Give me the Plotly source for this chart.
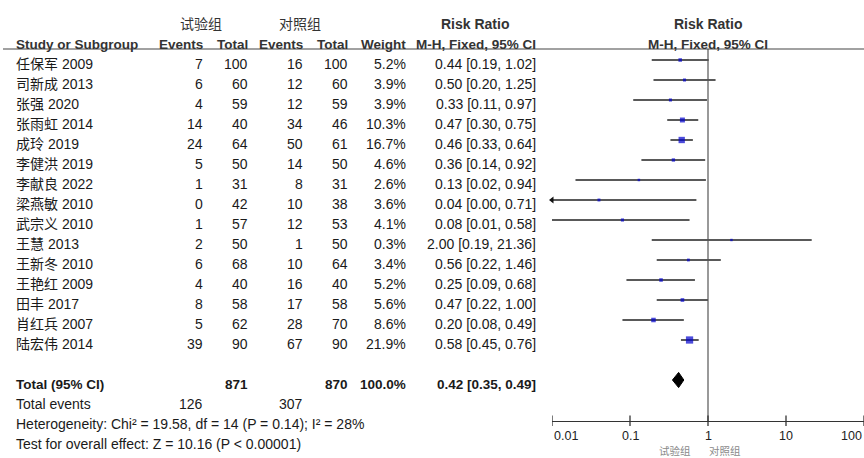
import math
import plotly.graph_objects as go

# ---------------- data ----------------
studies = ["任保军 2009", "司新成 2013", "张强 2020", "张雨虹 2014", "成玲 2019",
           "李健洪 2019", "李献良 2022", "梁燕敏 2010", "武宗义 2010", "王慧 2013",
           "王新冬 2010", "王艳红 2009", "田丰 2017", "肖红兵 2007", "陆宏伟 2014"]
exp_events = [7, 6, 4, 14, 24, 5, 1, 0, 1, 2, 6, 4, 8, 5, 39]
exp_total = [100, 60, 59, 40, 64, 50, 31, 42, 57, 50, 68, 40, 58, 62, 90]
ctl_events = [16, 12, 12, 34, 50, 14, 8, 10, 12, 1, 10, 16, 17, 28, 67]
ctl_total = [100, 60, 59, 46, 61, 50, 31, 38, 53, 50, 64, 40, 58, 70, 90]
weights = [5.2, 3.9, 3.9, 10.3, 16.7, 4.6, 2.6, 3.6, 4.1, 0.3, 3.4, 5.2, 5.6, 8.6, 21.9]
rr = [0.44, 0.50, 0.33, 0.47, 0.46, 0.36, 0.13, 0.04, 0.08, 2.00, 0.56, 0.25, 0.47, 0.20, 0.58]
ci_lo = [0.19, 0.20, 0.11, 0.30, 0.33, 0.14, 0.02, 0.00, 0.01, 0.19, 0.22, 0.09, 0.22, 0.08, 0.45]
ci_hi = [1.02, 1.25, 0.97, 0.75, 0.64, 0.92, 0.94, 0.71, 0.58, 21.36, 1.46, 0.68, 1.00, 0.49, 0.76]

total_rr = 0.42
total_lo = 0.35
total_hi = 0.49
total_weight = "100.0%"
heterogeneity = "Heterogeneity: Chi² = 19.58, df = 14 (P = 0.14); I² = 28%"
overall = "Test for overall effect: Z = 10.16 (P &lt; 0.00001)"
axis_ticks = [0.01, 0.1, 1, 10, 100]
axis_ticklabels = ["0.01", "0.1", "1", "10", "100"]
group_exp = "试验组"
group_ctl = "对照组"

# ---------------- layout helpers ----------------
W, H = 864, 458
FONT = "Liberation Sans, Arial, Noto Sans CJK SC, sans-serif"
TXT = "#1a1a1a"
XMIN, XMAX = axis_ticks[0], axis_ticks[-1]

n = len(studies)
rows = list(range(n))
row_total = n + 1
row_tev = n + 2
row_het = n + 3
row_test = n + 4
row_axis = n + 3.05
row_line = -0.55

def px(x):
    return x / W

col_label = px(14)
col_e1 = px(205)
col_t1 = px(250)
col_e2 = px(305)
col_t2 = px(350)
col_w = px(408)
col_ci = px(538)

fig = go.Figure()

# CI lines
lx, ly = [], []
for i in rows:
    lx += [max(ci_lo[i], XMIN), min(ci_hi[i], XMAX), None]
    ly += [i, i, None]
fig.add_trace(go.Scatter(x=lx, y=ly, mode="lines",
                         line=dict(color="#222", width=1.5),
                         hoverinfo="skip", showlegend=False))

# arrows for clipped CIs
ax_, ay_ = [], []
for i in rows:
    if ci_lo[i] < XMIN:
        ax_.append(XMIN)
        ay_.append(i)
fig.add_trace(go.Scatter(x=ax_, y=ay_, mode="markers",
                         marker=dict(symbol="triangle-left", size=6, color="#111"),
                         cliponaxis=False, hoverinfo="skip", showlegend=False))

# squares (size ~ weight)
sizes = [max(2.4, 1.55 * math.sqrt(w)) for w in weights]
fig.add_trace(go.Scatter(x=rr, y=rows, mode="markers",
                         marker=dict(symbol="square", size=sizes, color="#0000cc",
                                     line=dict(width=0)),
                         hoverinfo="skip", showlegend=False))

# reference line at 1
fig.add_trace(go.Scatter(x=[1, 1], y=[row_line, row_axis], mode="lines",
                         line=dict(color="#555", width=1.2),
                         hoverinfo="skip", showlegend=False))

# pooled diamond
dh = 0.38
fig.add_trace(go.Scatter(x=[total_lo, total_rr, total_hi, total_rr, total_lo],
                         y=[row_total, row_total - dh, row_total, row_total + dh, row_total],
                         mode="lines", fill="toself", fillcolor="#000",
                         line=dict(color="#000", width=1),
                         hoverinfo="skip", showlegend=False))

# axis tick marks
tx, ty = [], []
for t in axis_ticks:
    tx += [t, t, None]
    ty += [row_axis - 0.28, row_axis + 0.25, None]
fig.add_trace(go.Scatter(x=tx, y=ty, mode="lines",
                         line=dict(color="#333", width=1.3),
                         cliponaxis=False, hoverinfo="skip", showlegend=False))

ann = []

def txt(x, y, s, anchor="right", bold=False, size=14, color=TXT, xref="paper", yshift=-4):
    ann.append(dict(x=x, y=y, xref=xref, yref="y", text=("<b>%s</b>" % s) if bold else s,
                    xanchor=anchor, yanchor="middle", showarrow=False, yshift=yshift,
                    font=dict(family=FONT, size=size, color=color)))

# headers
txt(px(201), -2, group_exp, anchor="center", color="#333")
txt(px(300), -2, group_ctl, anchor="center", color="#333")
txt(px(475), -2, "Risk Ratio", anchor="center", bold=True, color="#333")
txt(px(708), -2, "Risk Ratio", anchor="center", bold=True, color="#333")
txt(col_label, -1, "Study or Subgroup", anchor="left", bold=True, size=13.5, color="#333")
txt(col_e1, -1, "Events", bold=True, size=13.5, color="#333")
txt(col_t1, -1, "Total", bold=True, size=13.5, color="#333")
txt(col_e2, -1, "Events", bold=True, size=13.5, color="#333")
txt(col_t2, -1, "Total", bold=True, size=13.5, color="#333")
txt(col_w, -1, "Weight", bold=True, size=13.5, color="#333")
txt(col_ci, -1, "M-H, Fixed, 95% CI", bold=True, size=13.5, color="#333")
txt(px(708), -1, "M-H, Fixed, 95% CI", anchor="center", bold=True, size=13.5, color="#333")

# study rows
for i in rows:
    txt(col_label, i, studies[i], anchor="left")
    txt(col_e1, i, str(exp_events[i]))
    txt(col_t1, i, str(exp_total[i]))
    txt(col_e2, i, str(ctl_events[i]))
    txt(col_t2, i, str(ctl_total[i]))
    txt(col_w, i, "%.1f%%" % weights[i])
    txt(col_ci, i, "%.2f [%.2f, %.2f]" % (rr[i], ci_lo[i], ci_hi[i]))

# totals
txt(col_label, row_total, "Total (95% CI)", anchor="left", bold=True, size=13.5)
txt(col_t1, row_total, str(sum(exp_total)), bold=True, size=13.5)
txt(col_t2, row_total, str(sum(ctl_total)), bold=True, size=13.5)
txt(col_w, row_total, total_weight, bold=True, size=13.5)
txt(col_ci, row_total, "%.2f [%.2f, %.2f]" % (total_rr, total_lo, total_hi), bold=True, size=13.5)
txt(col_label, row_tev, "Total events", anchor="left")
txt(col_e1, row_tev, str(sum(exp_events)))
txt(col_e2, row_tev, str(sum(ctl_events)))
txt(col_label, row_het, heterogeneity, anchor="left")
txt(col_label, row_test, overall, anchor="left")

# axis tick labels
for k, (t, lab) in enumerate(zip(axis_ticks, axis_ticklabels)):
    a = "left" if k == 0 else ("right" if k == len(axis_ticks) - 1 else "center")
    ann.append(dict(x=math.log10(t), y=row_axis, xref="x", yref="y", text=lab,
                    xanchor=a, yanchor="middle", showarrow=False, yshift=-15,
                    font=dict(family=FONT, size=12.5, color="#222")))

# favours labels
txt(px(675), row_test, group_exp, anchor="center", size=10.5, color="#8a8a8a", yshift=-11)
txt(px(725), row_test, group_ctl, anchor="center", size=10.5, color="#8a8a8a", yshift=-11)

fig.update_layout(
    width=W, height=H,
    margin=dict(l=0, r=0, t=0, b=0),
    paper_bgcolor="white", plot_bgcolor="white",
    annotations=ann,
    shapes=[dict(type="line", xref="paper", yref="y", x0=px(3), x1=1,
                 y0=row_line, y1=row_line, line=dict(color="#444", width=1.2))],
    xaxis=dict(type="log", range=[math.log10(XMIN), math.log10(XMAX)],
               domain=[px(552), 1], anchor="free", position=(H - 421) / H,
               showline=True, linecolor="#333", linewidth=1.3,
               ticks="", showticklabels=False, showgrid=False, zeroline=False),
    yaxis=dict(range=[19.9, -3], domain=[0, 1], visible=False,
               showgrid=False, zeroline=False),
    showlegend=False,
)

fig.write_html("out.html", config={"displayModeBar": False},
               post_script="document.body.style.margin='0';document.body.style.overflow='hidden';")
